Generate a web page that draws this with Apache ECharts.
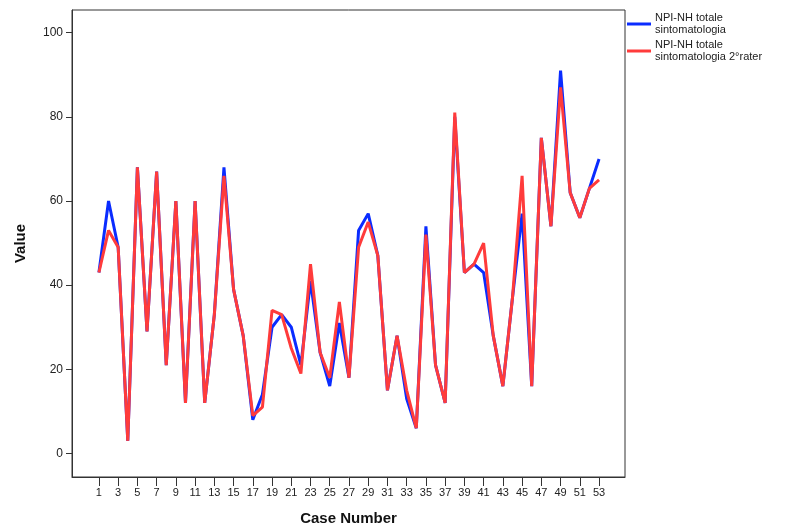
<!DOCTYPE html>
<html>
<head>
<meta charset="utf-8">
<script src="https://cdn.jsdelivr.net/npm/echarts@6/dist/echarts.min.js"></script>
<style>
  html, body { margin: 0; padding: 0; background: #fff; }
  #chart { width: 803px; height: 531px; }
</style>
</head>
<body>
<div id="chart"></div>
<script>
// case numbers 1..53
const cases = [1, 2, 3, 4, 5, 6, 7, 8, 9, 10, 11, 12, 13, 14, 15, 16, 17, 18, 19, 20,
  21, 22, 23, 24, 25, 26, 27, 28, 29, 30, 31, 32, 33, 34, 35, 36, 37, 38, 39, 40,
  41, 42, 43, 44, 45, 46, 47, 48, 49, 50, 51, 52, 53]

const rater1 = [43, 60, 49, 3, 68, 29, 67, 21, 60, 12, 60, 12, 33, 68, 39, 28, 8, 14, 30, 33,
  30, 21, 41, 24, 16, 31, 18, 53, 57, 47, 15, 28, 13, 6, 54, 21, 12, 80, 43, 45,
  43, 28, 16, 37, 57, 16, 75, 54, 91, 62, 56, 63, 70]

const rater2 = [43, 53, 49, 3, 68, 29, 67, 21, 60, 12, 60, 12, 33, 66, 39, 28, 9, 11, 34, 33,
  25, 19, 45, 24, 18, 36, 18, 49, 55, 47, 15, 28, 15, 6, 52, 21, 12, 81, 43, 45,
  50, 28, 16, 37, 66, 16, 75, 54, 87, 62, 56, 63, 65]

const xTicks = [1, 3, 5, 7, 9, 11, 13, 15, 17, 19, 21, 23, 25, 27, 29, 31, 33, 35, 37, 39,
  41, 43, 45, 47, 49, 51, 53]
const yTicks = [0, 20, 40, 60, 80, 100]

const seriesNames = ['NPI-NH totale sintomatologia', 'NPI-NH totale sintomatologia 2°rater']

const chart = echarts.init(document.getElementById('chart'))

const toPairs = (vals) => cases.map((c, i) => [c, vals[i]])

const option = {
  backgroundColor: '#fff',
  animation: false,
  textStyle: { fontFamily: 'Liberation Sans, Arial, sans-serif' },
  grid: {
    left: 72,
    top: 10,
    right: 178,
    bottom: 48,
    show: true,
    borderColor: '#333',
    borderWidth: 1
  },
  legend: {
    orient: 'vertical',
    left: 622,
    top: 7,
    itemWidth: 24,
    itemHeight: 3,
    itemGap: 3,
    icon: 'rect',
    formatter: (name) => name.replace(' sintomatologia', '\nsintomatologia'),
    textStyle: {
      fontSize: 11,
      color: '#222',
      lineHeight: 12,
      padding: [0, 0, 0, -1]
    },
    data: seriesNames
  },
  xAxis: {
    type: 'value',
    min: -1.8,
    max: 55.7,
    name: 'Case Number',
    nameLocation: 'middle',
    nameGap: 34,
    nameTextStyle: { fontSize: 15, fontWeight: 'bold', color: '#111' },
    splitLine: { show: false },
    axisLine: { show: true, onZero: false, lineStyle: { color: '#333' } },
    axisTick: {
      show: true,
      length: 9,
      customValues: xTicks,
      lineStyle: { color: '#333' }
    },
    axisLabel: {
      customValues: xTicks,
      fontSize: 11,
      color: '#222',
      margin: 10
    }
  },
  yAxis: {
    type: 'value',
    min: -5.6,
    max: 105.4,
    name: 'Value',
    nameLocation: 'middle',
    nameGap: 44,
    nameTextStyle: { fontSize: 15, fontWeight: 'bold', color: '#111' },
    splitLine: { show: false },
    axisLine: { show: true, onZero: false, lineStyle: { color: '#333' } },
    axisTick: {
      show: true,
      length: 6,
      customValues: yTicks,
      lineStyle: { color: '#333' }
    },
    axisLabel: {
      customValues: yTicks,
      fontSize: 12,
      color: '#222',
      margin: 9
    }
  },
  series: [
    {
      name: seriesNames[0],
      type: 'line',
      data: toPairs(rater1),
      showSymbol: false,
      itemStyle: { color: '#0a2cff' },
      lineStyle: { width: 3, color: '#0a2cff' },
      z: 2
    },
    {
      name: seriesNames[1],
      type: 'line',
      data: toPairs(rater2),
      showSymbol: false,
      itemStyle: { color: '#ff3b3b' },
      lineStyle: { width: 3, color: '#ff3b3b' },
      z: 3
    }
  ]
}

chart.setOption(option)
</script>
</body>
</html>
